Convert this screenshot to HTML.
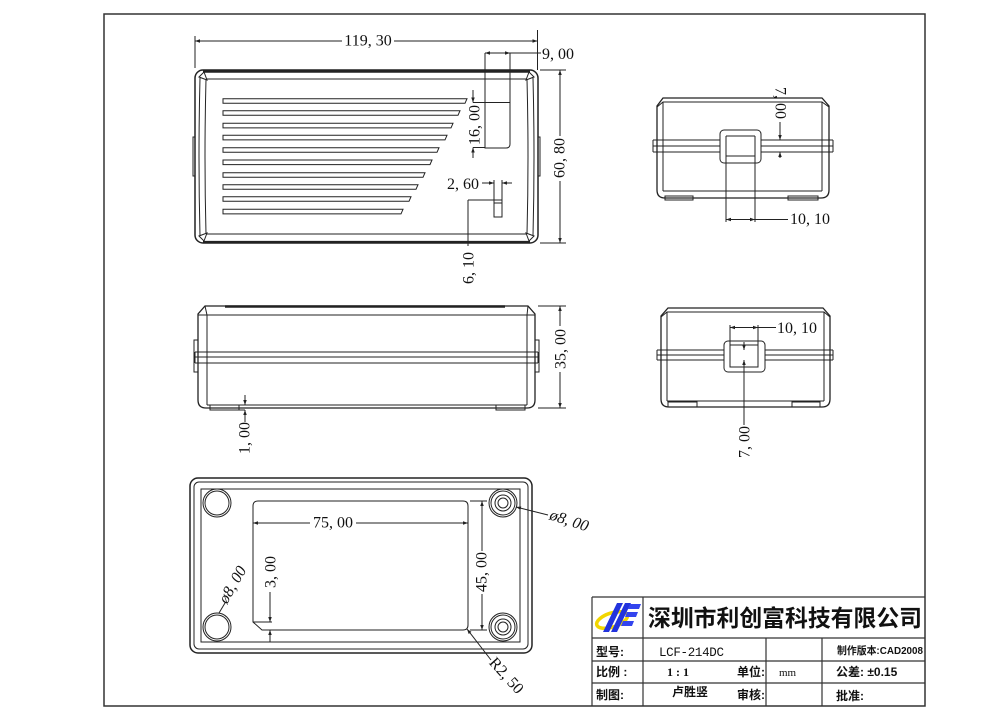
<!DOCTYPE html>
<html><head><meta charset="utf-8"><style>
html,body{margin:0;padding:0;background:#fff;}
svg{display:block;}
.d{font-family:"Liberation Serif",serif;font-size:16px;fill:#111;}
.c{font-family:"Liberation Sans","Noto Sans CJK SC",sans-serif;font-weight:bold;font-size:12px;fill:#111;}
</style></head><body>
<svg width="1000" height="711" viewBox="0 0 1000 711" xmlns="http://www.w3.org/2000/svg">
<defs>
<marker id="a" viewBox="0 0 10 10" refX="10" refY="5" markerWidth="6" markerHeight="5" orient="auto-start-reverse" markerUnits="userSpaceOnUse"><path d="M0,1.5 L10,5 L0,8.5 z" fill="#222"/></marker>
</defs>
<rect width="1000" height="711" fill="#fff"/>
<!-- frame -->
<rect x="104" y="14" width="821" height="692" fill="none" stroke="#333" stroke-width="1.5"/>

<g fill="none" stroke="#222" stroke-width="1">
<!-- ============ TOP VIEW ============ -->
<rect x="195" y="70" width="343" height="173" rx="8" stroke-width="1.5"/>
<path d="M203 71.5 H530" stroke-width="2.5"/>
<path d="M203 241.8 H530" stroke-width="1.8"/>
<path d="M200 78 Q198 157 200 236"/>
<path d="M533 78 Q535 157 533 236"/>
<path d="M206 79 H527 M206 234 H527 M206 79 Q204 157 206 234 M527 79 Q529 157 527 234"/>
<polygon points="199,77 204,72 207,80"/>
<polygon points="534,77 529,72 526,80"/>
<polygon points="199,236 204,241 207,233"/>
<polygon points="534,236 529,241 526,233"/>
<path d="M195 137 H193 V176 H195 M538 137 H540 V176 H538"/>
<!-- slots -->
<polygon points="223,98.7 467,98.7 465,103.3 223,103.3"/>
<polygon points="223,110.7 460,110.7 458,115.3 223,115.3"/>
<polygon points="223,123.3 453,123.3 451,127.9 223,127.9"/>
<polygon points="223,135.3 447,135.3 445,139.9 223,139.9"/>
<polygon points="223,147.7 439,147.7 437,152.3 223,152.3"/>
<polygon points="223,160 432,160 430,164.6 223,164.6"/>
<polygon points="223,172.7 425,172.7 423,177.3 223,177.3"/>
<polygon points="223,184.7 418,184.7 416,189.3 223,189.3"/>
<polygon points="223,196.7 411,196.7 409,201.3 223,201.3"/>
<polygon points="223,209.3 403,209.3 401,213.9 223,213.9"/>
<!-- connector rect -->
<path d="M485 53 V148 H506 Q510 148 510 144 V53"/>
<path d="M473 102.5 H510 M473 147.5 H485"/>
<!-- 119,30 -->
<path d="M195 36 V68 M537.5 30 V70"/>
<path d="M342 41 H195" marker-end="url(#a)"/>
<path d="M394 41 H537.5" marker-end="url(#a)"/>
<!-- 9,00 -->
<path d="M497 53 H485" marker-end="url(#a)"/>
<path d="M497 53 H510" marker-end="url(#a)"/>
<path d="M510 53 H541"/>
<!-- 16,00 -->
<path d="M473 90 V102.5" marker-end="url(#a)"/>
<path d="M473 158 V147.5" marker-end="url(#a)"/>
<!-- 2,60 -->
<path d="M482 183 H494" marker-end="url(#a)"/>
<path d="M512 183 H502" marker-end="url(#a)"/>
<path d="M494 180 V217 H502 V180 M494 200 H502 M494 203 H502"/>
<path d="M468 200 H494 M468 200 V246"/>
<!-- 60,80 -->
<path d="M540 70 H566 M540 243 H566"/>
<path d="M560 136 V70" marker-end="url(#a)"/>
<path d="M560 181 V243" marker-end="url(#a)"/>

<!-- ============ SIDE VIEW TOP-RIGHT ============ -->
<path d="M663 98 H822 L829 106 V190 Q829 198 821 198 H665 Q657 198 657 190 V106 Z" stroke-width="1.3"/>
<path d="M657 107 L663 102 H822 L829 107"/>
<path d="M663 102 V191 M822 102 V191 M663 191 H822"/>
<rect x="665" y="196" width="28" height="4"/>
<rect x="788" y="196" width="30" height="4"/>
<path d="M653 140 H720 M653 146 H720 M653 152 H720 M653 140 V152"/>
<path d="M761 140 H833 M761 146 H833 M761 152 H833 M833 140 V152"/>
<rect x="720" y="130" width="41" height="33" rx="4" fill="#fff"/>
<path d="M726 136 H755 M726 156 H755 M726 136 V222 M755 136 V222"/>
<path d="M740.5 219.5 H726" marker-end="url(#a)"/>
<path d="M740.5 219.5 H755" marker-end="url(#a)"/>
<path d="M755 219.5 H788"/>
<path d="M761 140 H784 M761 152 H784"/>
<path d="M780 122 V140" marker-end="url(#a)"/>
<path d="M780 158 V152" marker-end="url(#a)"/>

<!-- ============ FRONT VIEW ============ -->
<path d="M205 306 H528 L535 314 V400 Q535 408 527 408 H206 Q198 408 198 400 V314 Z" stroke-width="1.3"/>
<path d="M225 306.5 H505" stroke-width="2.5"/>
<path d="M198 315 H535"/>
<path d="M205 306 L207 315 M528 306 L527 315"/>
<path d="M207 315 V405 M527 315 V405 M207 405 H527"/>
<path d="M195 352 H538 M195 357 H538 M195 363 H538 M195 352 V363 M538 352 V363"/>
<path d="M198 340 H194 V372 H198 M535 340 H539 V372 H535"/>
<rect x="210" y="405" width="29" height="5"/>
<rect x="496" y="405" width="29" height="5"/>
<!-- 35,00 -->
<path d="M538 306 H566 M538 408 H566"/>
<path d="M560 326 V306" marker-end="url(#a)"/>
<path d="M560 372 V408" marker-end="url(#a)"/>
<!-- 1,00 -->
<path d="M245 395 V405" marker-end="url(#a)"/>
<path d="M245 422 V410" marker-end="url(#a)"/>
<path d="M238 410 H245"/>

<!-- ============ SIDE VIEW MID-RIGHT ============ -->
<path d="M668 308 H823 L830 316 V399 Q830 407 822 407 H669 Q661 407 661 399 V316 Z" stroke-width="1.3"/>
<path d="M661 317 L667 312 H824 L830 317"/>
<path d="M667 312 V401 M824 312 V401 M667 401 H824"/>
<rect x="668" y="402" width="29" height="5"/>
<rect x="792" y="402" width="28" height="5"/>
<path d="M657 350 H724 M657 355 H724 M657 360 H724 M657 350 V360"/>
<path d="M765 350 H833 M765 355 H833 M765 360 H833 M833 350 V360"/>
<rect x="724" y="341" width="41" height="31" rx="4" fill="#fff"/>
<rect x="730" y="345" width="28" height="22"/>
<path d="M730 325 V345 M758 325 V345"/>
<path d="M744 327.5 H730" marker-end="url(#a)"/>
<path d="M744 327.5 H758" marker-end="url(#a)"/>
<path d="M758 327.5 H776"/>
<path d="M744 425 V360" marker-end="url(#a)"/>
<path d="M744 342 V350" marker-end="url(#a)"/>

<!-- ============ BOTTOM VIEW ============ -->
<rect x="190" y="478" width="342" height="175" rx="8" stroke-width="1.5"/>
<rect x="194" y="482" width="334" height="167" rx="5"/>
<rect x="201" y="489" width="319" height="153"/>
<circle cx="217" cy="503" r="14"/><circle cx="217" cy="503" r="12"/>
<circle cx="217" cy="627" r="14"/><circle cx="217" cy="627" r="12"/>
<circle cx="503" cy="503" r="14"/><circle cx="503" cy="503" r="12"/><circle cx="503" cy="503" r="8"/><circle cx="503" cy="503" r="5"/>
<circle cx="503" cy="627" r="14"/><circle cx="503" cy="627" r="12"/><circle cx="503" cy="627" r="8"/><circle cx="503" cy="627" r="5"/>
<path d="M253 506 Q253 501 258 501 H463 Q468 501 468 506 V625 Q468 630 463 630 H262 L253 622 Z"/>
<path d="M253 622 H272"/>
<!-- 75,00 -->
<path d="M310 523 H253" marker-end="url(#a)"/>
<path d="M356 523 H468" marker-end="url(#a)"/>
<!-- 45,00 -->
<path d="M470 501 H487 M470 630 H487"/>
<path d="M482 551 V501" marker-end="url(#a)"/>
<path d="M482 594 V630" marker-end="url(#a)"/>
<!-- 3,00 -->
<path d="M270 592 V622" marker-end="url(#a)"/>
<path d="M270 642 V630" marker-end="url(#a)"/>
<!-- R2,50 -->
<path d="M491 660 L467 629" marker-end="url(#a)"/>
<!-- dia 8 -->
<path d="M548 515 L516 507" marker-end="url(#a)"/>
<path d="M225 603 L219 613"/>

<!-- ============ TITLE BLOCK ============ -->
<g stroke="#333" stroke-width="1.2">
<path d="M592 597 H925 M592 597 V706 M592 638 H925 M592 661 H925 M592 683 H925 M643 597 V706 M766 638 V706 M822 638 V706"/>
</g>
</g>

<!-- logo -->
<g>
<ellipse cx="612" cy="620" rx="16" ry="7" transform="rotate(-18 612 620)" fill="none" stroke="#f2d600" stroke-width="3.5"/>
<polygon points="617,603 623,603 609,632 603,632" fill="#2233dd"/>
<polygon points="625,603 631,603 617,632 611,632" fill="#2233dd"/>
<polygon points="630,604 641,604 639,609 628,609" fill="#3344ee"/>
<polygon points="627,612 638,612 636,617 625,617" fill="#3344ee"/>
<polygon points="623,621 634,621 632,626 621,626" fill="#3344ee"/>
</g>

<!-- dimension texts -->
<text class="d" x="368" y="41" text-anchor="middle" dominant-baseline="central">119, 30</text>
<text class="d" x="542" y="59">9, 00</text>
<text class="d" x="475" y="125" text-anchor="middle" dominant-baseline="central" transform="rotate(-90 475 125)">16, 00</text>
<text class="d" x="447" y="189">2, 60</text>
<text class="d" x="469" y="268" text-anchor="middle" dominant-baseline="central" transform="rotate(-90 469 268)">6, 10</text>
<text class="d" x="560" y="158" text-anchor="middle" dominant-baseline="central" transform="rotate(-90 560 158)">60, 80</text>
<text class="d" x="780" y="103" text-anchor="middle" dominant-baseline="central" transform="rotate(90 780 103)">7, 00</text>
<text class="d" x="790" y="224">10, 10</text>
<text class="d" x="561" y="349" text-anchor="middle" dominant-baseline="central" transform="rotate(-90 561 349)">35, 00</text>
<text class="d" x="245" y="438" text-anchor="middle" dominant-baseline="central" transform="rotate(-90 245 438)">1, 00</text>
<text class="d" x="777" y="333">10, 10</text>
<text class="d" x="745" y="442" text-anchor="middle" dominant-baseline="central" transform="rotate(-90 745 442)">7, 00</text>
<text class="d" x="333" y="523" text-anchor="middle" dominant-baseline="central">75, 00</text>
<text class="d" x="482" y="572" text-anchor="middle" dominant-baseline="central" transform="rotate(-90 482 572)">45, 00</text>
<text class="d" x="271" y="572" text-anchor="middle" dominant-baseline="central" transform="rotate(-90 271 572)">3, 00</text>
<text class="d" x="506" y="676" text-anchor="middle" dominant-baseline="central" transform="rotate(48 506 676)">R2, 50</text>
<text class="d" x="569" y="521" text-anchor="middle" dominant-baseline="central" transform="rotate(18 569 521)" font-style="italic">ø8, 00</text>
<text class="d" x="233" y="585" text-anchor="middle" dominant-baseline="central" transform="rotate(-60 233 585)" font-style="italic">ø8, 00</text>

<!-- title block texts -->
<text x="648" y="626" textLength="274" lengthAdjust="spacingAndGlyphs" style="font-family:'Liberation Sans','Noto Sans CJK SC',sans-serif;font-size:23px;font-weight:bold;fill:#111;">深圳市利创富科技有限公司</text>
<text class="c" x="596" y="656">型号:</text>
<text x="659" y="656" textLength="65" style="font-family:'Liberation Mono',monospace;font-size:12.5px;fill:#111;">LCF-214DC</text>
<text class="c" x="837" y="654" textLength="86" lengthAdjust="spacingAndGlyphs" style="font-size:10.5px;">制作版本:CAD2008</text>
<text class="c" x="596" y="676">比例 :</text>
<text x="667" y="676" style="font-family:'Liberation Serif',serif;font-size:12px;font-weight:bold;fill:#111;">1 : 1</text>
<text class="c" x="737" y="676">单位:</text>
<text x="779" y="676" style="font-family:'Liberation Serif',serif;font-size:11px;fill:#111;">mm</text>
<text class="c" x="836" y="676">公差: ±0.15</text>
<text class="c" x="596" y="699">制图:</text>
<text class="c" x="672" y="696">卢胜竖</text>
<text class="c" x="737" y="699">审核:</text>
<text class="c" x="836" y="700">批准:</text>
</svg>
</body></html>
